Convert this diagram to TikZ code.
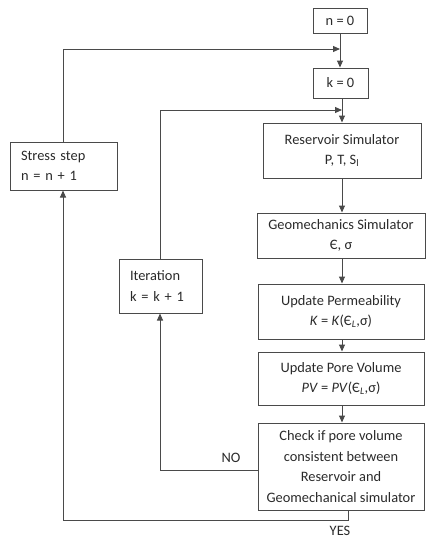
\documentclass[tikz,border=0pt]{standalone}
\usepackage{fontspec}
\setmainfont{Carlito}
\usetikzlibrary{arrows.meta}
\definecolor{ln}{HTML}{4a4a4a}
\definecolor{tx}{HTML}{2a2a2a}
\begin{document}
\begin{tikzpicture}[x=1pt,y=-1pt,
  box/.style={draw=ln, line width=1pt, inner sep=0pt, text=tx,
    font=\fontsize{14.4}{20.5}\selectfont, align=center},
  lbox/.style={box, align=left, text width=#1},
  arr/.style={draw=ln, line width=1pt, -{Triangle[length=7pt,width=6pt]}},
  lab/.style={text=tx, font=\fontsize{14.4}{16}\selectfont, inner sep=0pt}]
\useasboundingbox (0,0) rectangle (427,539);

\node[box, minimum width=54pt, minimum height=25pt] (n0) at (340,20.5) {n = 0};
\node[box, minimum width=55pt, minimum height=30pt] (k0) at (340.5,83) {k = 0};
\node[box, minimum width=158pt, minimum height=55pt] (res) at (342,150.5)
  {Reservoir Simulator\\P, T, S\textsubscript{l}};
\node[box, minimum width=168pt, minimum height=45pt] (geo) at (341,235.5)
  {Geomechanics Simulator\\Є, σ};
\node[box, minimum width=166pt, minimum height=55pt] (perm) at (341,311.5)
  {Update Permeability\\\textit{K} = \textit{K}(Є\textsubscript{\textit{L}},σ)};
\node[box, minimum width=166pt, minimum height=53pt] (pv) at (341,378.5)
  {Update Pore Volume\\\textit{PV} = \textit{PV}(Є\textsubscript{\textit{L}},σ)};
\node[box, minimum width=166pt, minimum height=87pt] (check) at (341,466.5)
  {Check if pore volume\\consistent between\\Reservoir and\\Geomechanical simulator};
\node[lbox=85pt, minimum width=107pt, minimum height=48pt] (stress) at (63.5,166)
  {Stress step\\n = n + 1};
\node[lbox=61pt, minimum width=83pt, minimum height=54pt] (iter) at (160.5,286)
  {Iteration\\k = k + 1};

\coordinate (j1) at (340,49);
\coordinate (j2) at (342,110);
\coordinate (nb) at (160,470);
\coordinate (yb) at (348,520);
\coordinate (yl) at (63,520);

\draw[arr] (n0.south) -- (n0.south |- k0.north);
\draw[arr] (stress.north -| 63,0) -- (63,49) -- (j1);
\draw[arr] (k0.south -| j2) -- (res.north -| j2);
\draw[arr] (iter.north -| 160,0) -- (160,110) -- (j2);
\draw[arr] (res.south -| 342,0) -- (geo.north -| 342,0);
\draw[arr] (geo.south -| 342,0) -- (perm.north -| 342,0);
\draw[arr] (perm.south -| 342,0) -- (pv.north -| 342,0);
\draw[arr] (pv.south -| 342,0) -- (check.north -| 342,0);
\draw[arr] (check.west |- nb) -- (nb) -- (iter.south -| nb);
\draw[arr] (check.south -| yb) -- (yb) -- (yl) -- (stress.south -| yl);

\node[lab] (no) at (231,458) {NO};
\node[lab] (yes) at (340,531) {YES};
\end{tikzpicture}
\end{document}
